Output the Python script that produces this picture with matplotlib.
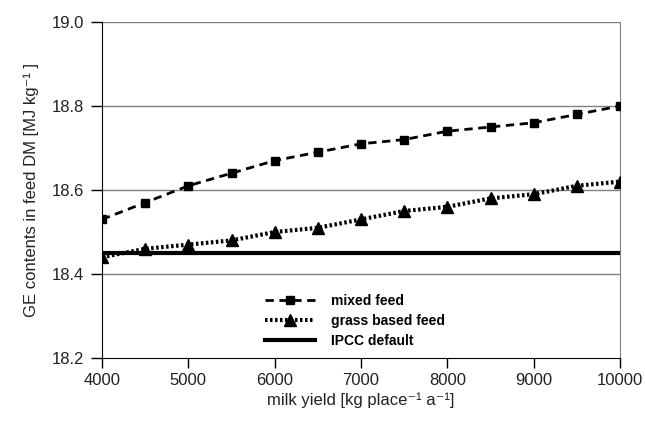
import matplotlib
matplotlib.use("Agg")
import matplotlib.pyplot as plt

plt.rcParams['font.family'] = ['Liberation Sans', 'DejaVu Sans']

milk_yield = [4000, 4500, 5000, 5500, 6000, 6500, 7000, 7500, 8000, 8500, 9000, 9500, 10000]
mixed_feed = [18.53, 18.57, 18.61, 18.64, 18.67, 18.69, 18.71, 18.72, 18.74, 18.75, 18.76, 18.78, 18.80]
grass_feed = [18.44, 18.46, 18.47, 18.48, 18.50, 18.51, 18.53, 18.55, 18.56, 18.58, 18.59, 18.61, 18.62]
ipcc_default = 18.45
x_ticks = [4000, 5000, 6000, 7000, 8000, 9000, 10000]
y_ticks = [18.2, 18.4, 18.6, 18.8, 19.0]

fig = plt.figure(figsize=(6.45, 4.22), dpi=100)
ax = fig.add_axes([102/645, 1-358/422, (620-102)/645, (358-22)/422])

for y in y_ticks[1:]:
    ax.axhline(y, color='#808080', lw=1.0, zorder=0)

ax.plot(milk_yield, mixed_feed, color='black', ls=(0, (3, 2)), lw=2.0,
        marker='s', ms=6, label='mixed feed', zorder=3)
ax.plot(milk_yield, grass_feed, color='black', ls=(0, (0.6, 0.6)), lw=3.0,
        marker='^', ms=9, label='grass based feed', zorder=3)
ax.plot([milk_yield[0], milk_yield[-1]], [ipcc_default, ipcc_default], color='black',
        lw=3.0, label='IPCC default', zorder=2)

ax.set_xlim(4000, 10000)
ax.set_ylim(18.2, 19.0)
ax.set_xticks(x_ticks)
ax.set_yticks(y_ticks)
ax.set_yticklabels([f'{v:.1f}' for v in y_ticks])
ax.tick_params(axis='both', direction='out', width=1, labelsize=12,
               colors='black', labelcolor='#222222')
ax.tick_params(axis='y', length=8, pad=5)
ax.tick_params(axis='x', length=7, pad=4)
ax.spines['top'].set_visible(False)
ax.spines['right'].set_color('#808080')
ax.spines['left'].set_color('black')
ax.spines['bottom'].set_color('black')

ax.set_xlabel('milk yield [kg place\u207b\u00b9 a\u207b\u00b9]', fontsize=12, labelpad=3,
              color='#222222')
ax.set_ylabel('GE contents in feed DM [MJ kg\u207b\u00b9 ]', fontsize=12, labelpad=9,
              color='#222222')

leg = ax.legend(loc='center left', bbox_to_anchor=(0.29, 0.11), frameon=False,
                prop={'weight': 'bold', 'size': 10}, handlelength=3.6,
                labelspacing=0.45, handletextpad=1.2)

fig.savefig('out.png', dpi=100, facecolor='white')
